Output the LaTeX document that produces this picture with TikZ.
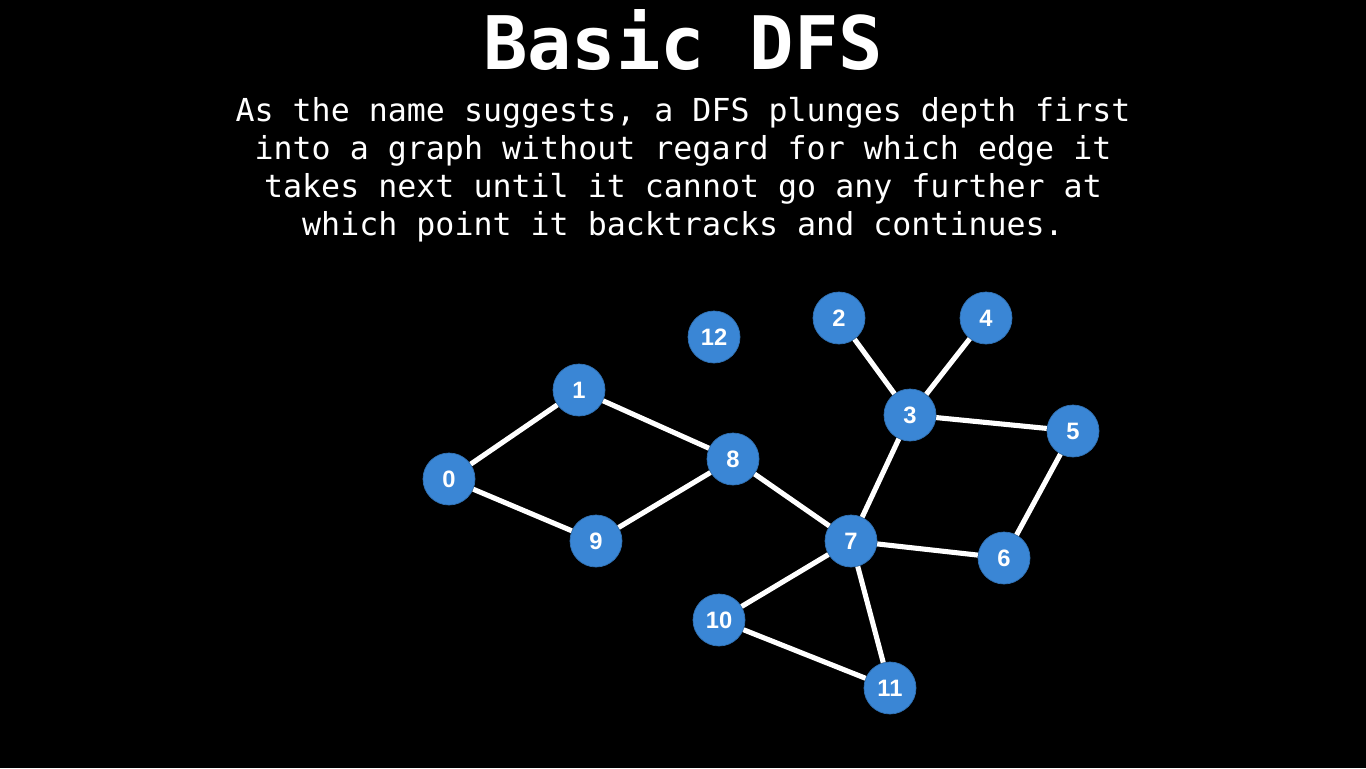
\documentclass[tikz,border=0pt]{standalone}
\usepackage{fontspec}
\setmonofont{DejaVu Sans Mono}
\setsansfont{Liberation Sans}
\usepackage{xcolor}
\usetikzlibrary{positioning}
\definecolor{vblue}{HTML}{3A86D5}

\begin{document}
\begin{tikzpicture}[
    x=0.02cm, y=-0.02cm,
    vertex/.style={circle, fill=vblue, draw=vblue!85!black, line width=0.4pt, minimum size=1.04cm, inner sep=0pt, text=white, font=\sffamily\bfseries\fontsize{13.5}{13.5}\selectfont},
    edge/.style={white, line width=2.9pt}
]

\fill[black] (0,0) rectangle (1366,768);

\node[font=\ttfamily\bfseries\fontsize{42}{42}\selectfont, text=white] (title) at (683,40) {Basic DFS};
\node[font=\ttfamily\fontsize{18}{21.6}\selectfont, text=white, align=center] (desc) at (683,170) {As the name suggests, a DFS plunges depth first\\into a graph without regard for which edge it\\takes next until it cannot go any further at\\which point it backtracks and continues.};

\node[vertex] (v0) at (449,479) {0};
\node[vertex] (v1) at (579,390) {1};
\node[vertex] (v2) at (839,318) {2};
\node[vertex] (v3) at (910,415) {3};
\node[vertex] (v4) at (986,318) {4};
\node[vertex] (v5) at (1073,431) {5};
\node[vertex] (v6) at (1004,558) {6};
\node[vertex] (v7) at (851,541) {7};
\node[vertex] (v8) at (733,459) {8};
\node[vertex] (v9) at (596,541) {9};
\node[vertex] (v10) at (719,620) {10};
\node[vertex] (v11) at (890,688) {11};
\node[vertex] (v12) at (714,337) {12};

\foreach \a/\b in {v0/v1, v0/v9, v1/v8, v9/v8, v8/v7, v7/v3, v3/v2, v3/v4, v3/v5, v5/v6, v7/v6, v7/v10, v7/v11, v10/v11}
    \draw[edge] (\a) -- (\b);

\end{tikzpicture}
\end{document}
